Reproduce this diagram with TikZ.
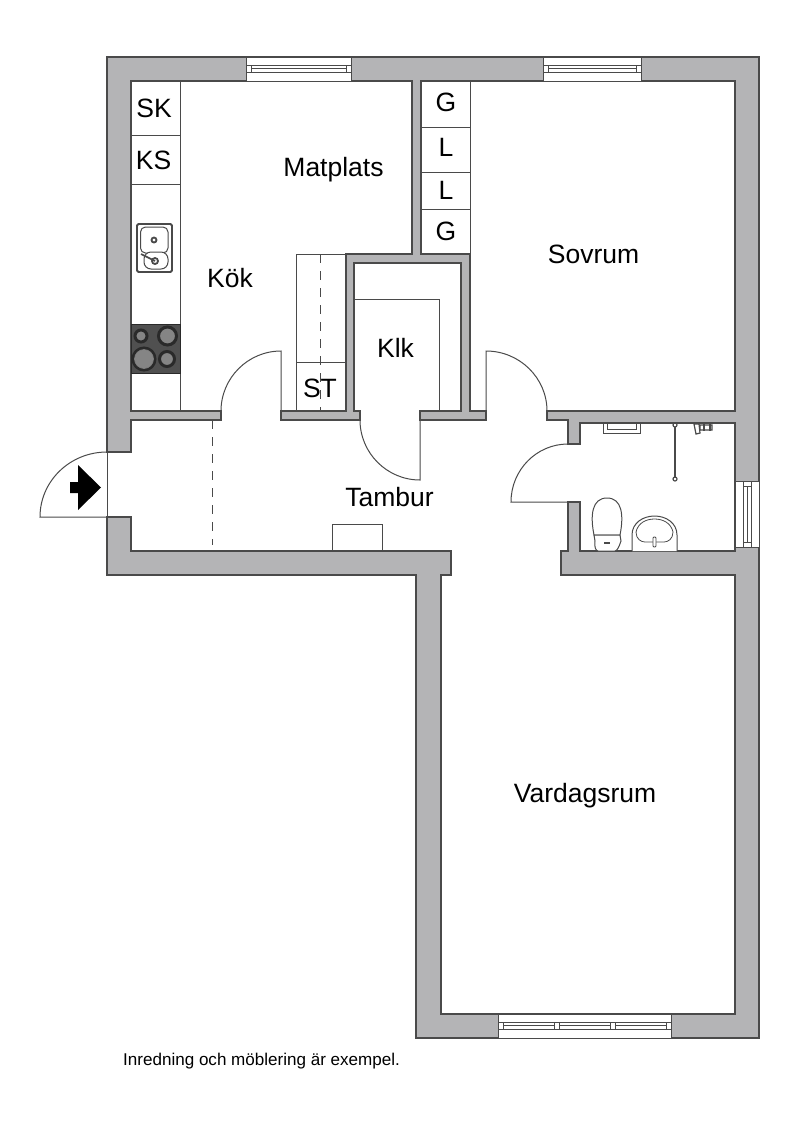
\documentclass[tikz,border=0pt]{standalone}
\usepackage{fontspec}
\setmainfont{Liberation Sans}
\definecolor{wallc}{HTML}{B4B4B6}
\definecolor{linec}{HTML}{4A4A4A}
\definecolor{hob}{HTML}{505050}
\definecolor{hobring}{HTML}{2A2A2A}
\definecolor{hobin}{HTML}{858585}
\tikzset{
  wall/.style={fill=wallc,draw=linec,line width=1.1pt,line join=miter},
  thin line/.style={draw=linec,line width=1pt},
  fixture/.style={draw=linec,line width=1pt,fill=white},
  dashline/.style={draw=linec,line width=0.9pt,dash pattern=on 9pt off 8pt},
  win/.style={draw=linec,line width=0.9pt,fill=white},
  roomlabel/.style={font=\fontsize{26.5}{30}\selectfont,text=black,inner sep=0pt,anchor=base},
  note/.style={font=\fontsize{17.05}{20}\selectfont,text=black,inner sep=0pt,anchor=base west},
  burner/.style={draw=hobring,line width=3pt,fill=hobin},
}
\begin{document}
\begin{tikzpicture}[x=1pt,y=-1pt]
\useasboundingbox (0,0) rectangle (800,1125);
% walls
\path[wall] (107,452) -- (107,57) -- (759,57) -- (759,1038) -- (416,1038) -- (416,575) -- (107,575) -- (107,517) -- (131,517) -- (131,551) -- (451,551) -- (451,575) -- (441,575) -- (441,1014) -- (735,1014) -- (735,575) -- (561,575) -- (561,551) -- (568,551) -- (568,502) -- (580,502) -- (580,551) -- (735,551) -- (735,423) -- (580,423) -- (580,444) -- (568,444) -- (568,420) -- (547,420) -- (547,411) -- (735,411) -- (735,81) -- (421,81) -- (421,254) -- (470,254) -- (470,411) -- (486,411) -- (486,420) -- (420,420) -- (420,411) -- (461,411) -- (461,263) -- (354,263) -- (354,411) -- (360,411) -- (360,420) -- (281,420) -- (281,411) -- (346,411) -- (346,254) -- (412,254) -- (412,81) -- (131,81) -- (131,411) -- (221,411) -- (221,420) -- (131,420) -- (131,452) -- cycle;
\draw[thin line] (107,452) -- (107,517);
% top window 1
\path[win] (246,57) rectangle (351,81);
\path[win] (246,65) rectangle (351,72.5);
\draw[thin line,line width=.8pt] (251,65) -- (251,72.5) (346,65) -- (346,72.5) (251,68) -- (346,68);
% top window 2
\path[win] (543,57) rectangle (641,81);
\path[win] (543,65) rectangle (641,72.5);
\draw[thin line,line width=.8pt] (548,65) -- (548,72.5) (636,65) -- (636,72.5) (548,68) -- (636,68);
% right window
\path[win] (735,481) rectangle (759,547);
\path[win] (743,481) rectangle (751,547);
\draw[thin line,line width=.8pt] (743,486) -- (751,486) (743,542) -- (751,542) (747,486) -- (747,542);
% bottom window
\path[win] (498,1014) rectangle (671,1038);
\path[win] (498,1022) rectangle (671,1029.5);
\draw[thin line,line width=.8pt] (503,1022) -- (503,1029.5) (554,1022) -- (554,1029.5) (559,1022) -- (559,1029.5) (610,1022) -- (610,1029.5) (615,1022) -- (615,1029.5) (666,1022) -- (666,1029.5) (503,1025) -- (554,1025) (559,1025) -- (610,1025) (615,1025) -- (666,1025);
% entrance door
\draw[thin line] (107,517) -- (40,517) .. controls (40,481) and (70,452) .. (107,452);
\fill[black] (70,482) -- (78,482) -- (78,465) -- (101,487.5) -- (78,510) -- (78,493) -- (70,493) -- cycle;
% interior doors
\draw[thin line] (281,411) -- (281,351) .. controls (248,351) and (221,378) .. (221,411);
\draw[thin line] (420,420) -- (420,480) .. controls (387,480) and (360,453) .. (360,420);
\draw[thin line] (486,411) -- (486,351) .. controls (519.7,351) and (547,378) .. (547,411);
\draw[thin line] (568,502) -- (511,502) .. controls (511,470) and (536.5,444) .. (568,444);
% kitchen counter
\draw[thin line] (180,81) -- (180,411) (131,135) -- (180,135) (131,184) -- (180,184);
% sink
\path[draw=linec,line width=1.8pt,fill=white,rounded corners=1.5pt] (137,224) rectangle (172,272);
\path[draw=linec,line width=1pt,fill=white,rounded corners=5pt] (140.5,227) rectangle (168,253);
\path[draw=linec,line width=1pt,fill=white,rounded corners=7pt] (144,252) rectangle (168,269);
\draw[linec,line width=1.8pt] (154,240) circle[radius=2.5pt] (155,261) circle[radius=3pt];
\draw[linec,line width=1.6pt] (141,254) -- (155,261);
% hob
\path[fill=hob,draw=hobring,line width=.8pt] (131,324) rectangle (180,373);
\path[burner] (141,336) circle[radius=6pt];
\path[burner] (167.5,336) circle[radius=9pt];
\path[burner] (144,359) circle[radius=11pt];
\draw[hobin,line width=.6pt] (144,359) circle[radius=9.5pt];
\path[burner] (167,359) circle[radius=7.5pt];
% ST cabinet
\draw[thin line] (296,411) -- (296,254) -- (346,254) (296,362.5) -- (346,362.5);
\path[dashline] (320.5,254) -- (320.5,411);
% G/L cabinet
\draw[thin line] (470,81) -- (470,254) (421,127) -- (470,127) (421,172.5) -- (470,172.5) (421,209) -- (470,209);
% Klk shelf
\draw[thin line] (354,299) -- (439,299) -- (439,411);
% Tambur
\path[dashline] (212.5,420) -- (212.5,545);
\draw[thin line] (332,551) -- (332,524) -- (382,524) -- (382,551);
% bathroom fixtures
\draw[thin line,line width=.8pt] (603,423) -- (603,433) -- (640,433) -- (640,423) (607,423) -- (607,429) -- (636,429) -- (636,423);
\draw[linec,line width=1.4pt] (675,425) -- (675,479);
\path[draw=linec,line width=1.2pt,fill=white] (675,425) circle[radius=2pt] (675,479) circle[radius=2pt];
\path[draw=linec,line width=1.2pt,fill=white] (694,424) -- (699,424) -- (700,433) -- (696,434) -- cycle (700,425) rectangle (712,430);
\draw[linec,line width=1.6pt] (704,424) -- (704,431) (710,424) -- (710,431);
% toilet
\path[fixture] (594,535) .. controls (590,515) and (592,498) .. (607,498) .. controls (622,498) and (624,515) .. (620,535) -- cycle;
\path[fixture] (594,535) -- (620,535) -- (621,541) .. controls (619,547) and (617,551) .. (615,551) -- (598,551) .. controls (596,551) and (594,547) .. (595,541) -- cycle;
\draw[thin line,line width=1.2pt] (604,543) -- (610,543);
% wash basin
\path[fixture] (632,551) -- (632,535) .. controls (632,523) and (643,516) .. (654.5,516) .. controls (666,516) and (677,523) .. (677,535) -- (677,551);
\path[draw=linec,line width=.8pt] (636,532) .. controls (638,523) and (646,519) .. (654.5,519) .. controls (663,519) and (671,523) .. (673,532) .. controls (673,539) and (668,542) .. (664,542) -- (645,542) .. controls (641,542) and (636,539) .. (636,532) -- cycle;
\path[draw=linec,line width=.8pt,fill=white,rounded corners=1pt] (653,537) rectangle (656,547);
% labels
\node[roomlabel] (sk) at (154,117) {SK};
\node[roomlabel] (ks) at (153.5,169) {KS};
\node[roomlabel] (matplats) at (333.5,176) {Matplats};
\node[roomlabel] (kok) at (230,287) {Kök};
\node[roomlabel] (st) at (320,397) {ST};
\node[roomlabel] (g1) at (446,111) {G};
\node[roomlabel] (l1) at (446,156) {L};
\node[roomlabel] (l2) at (446,199) {L};
\node[roomlabel] (g2) at (446,240) {G};
\node[roomlabel] (sovrum) at (593.5,263) {Sovrum};
\node[roomlabel] (klk) at (395.5,357) {Klk};
\node[roomlabel] (tambur) at (389.5,506) {Tambur};
\node[roomlabel] (vardagsrum) at (585,802) {Vardagsrum};
\node[note] (note) at (123,1065) {Inredning och möblering är exempel.};
\end{tikzpicture}
\end{document}
